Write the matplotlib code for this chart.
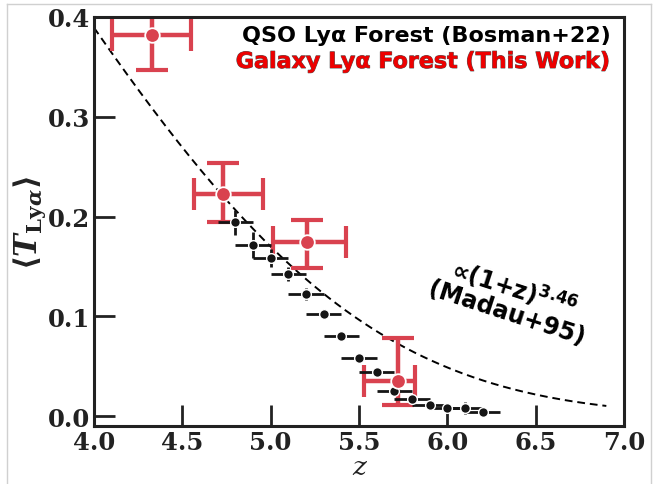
import numpy as np
import matplotlib
matplotlib.use('Agg')
import matplotlib.pyplot as plt
import matplotlib.patheffects as pe
from matplotlib.lines import Line2D

# ---- data ----
qso_z = [4.8, 4.9, 5.0, 5.1, 5.2, 5.3, 5.4, 5.5, 5.6, 5.7, 5.8, 5.9, 6.0, 6.1, 6.2]
qso_T = [0.194, 0.171, 0.158, 0.142, 0.122, 0.102, 0.080, 0.058, 0.044, 0.025,
         0.017, 0.011, 0.008, 0.008, 0.004]
qso_zerr = [0.1] * 15
qso_Terr = [0.013, 0.013, 0.009, 0.007, 0.006, 0.005, 0.004, 0.004, 0.004, 0.004,
            0.003, 0.003, 0.003, 0.006, 0.003]

gal_z = [4.327, 4.732, 5.204, 5.718]
gal_T = [0.382, 0.223, 0.174, 0.035]
gal_zerr_lo = [0.223, 0.164, 0.189, 0.190]
gal_zerr_hi = [0.221, 0.226, 0.222, 0.100]
gal_Terr_lo = [0.035, 0.029, 0.026, 0.024]
gal_Terr_hi = [0.035, 0.031, 0.023, 0.043]

madau_amp = 0.0036
madau_index = 3.46
z_model = np.linspace(4.0, 6.9, 300)
T_model = np.exp(-madau_amp * (1 + z_model) ** madau_index)

# ---- style ----
plt.rcParams['mathtext.fontset'] = 'custom'
plt.rcParams['mathtext.rm'] = 'DejaVu Serif:bold'
plt.rcParams['mathtext.it'] = 'DejaVu Serif:italic:bold'
plt.rcParams['mathtext.bf'] = 'DejaVu Serif:bold'
plt.rcParams['mathtext.sf'] = 'DejaVu Sans:bold'

red = '#d9424f'
dark = '#222222'

fig = plt.figure(figsize=(6.58, 4.85), dpi=100)
ax = fig.add_axes([94 / 658, 58 / 485, 530 / 658, 409 / 485])

# model curve
ax.plot(z_model, T_model, ls=(0, (4, 2.5)), color='black', lw=1.4, zorder=1)

# galaxy error bars (lines only)
ax.errorbar(gal_z, gal_T, xerr=[gal_zerr_lo, gal_zerr_hi], yerr=[gal_Terr_lo, gal_Terr_hi],
            fmt='none', ecolor=red, elinewidth=3.2, capsize=11.5, capthick=3.0, zorder=2)

# QSO points
ax.errorbar(qso_z, qso_T, xerr=qso_zerr, yerr=qso_Terr, fmt='o', color='#151515',
            ms=7, mec='white', mew=1.0, elinewidth=2.0, capsize=0, zorder=3)

# galaxy markers on top
ax.plot(gal_z, gal_T, 'o', color=red, ms=10.5, mec='white', mew=1.3, zorder=4, ls='none')

ax.set_xlim(4.0, 7.0)
ax.set_ylim(-0.01, 0.4)
ax.set_xticks([4.0, 4.5, 5.0, 5.5, 6.0, 6.5, 7.0])
ax.set_yticks([0.0, 0.1, 0.2, 0.3, 0.4])
ax.set_xticklabels(['4.0', '4.5', '5.0', '5.5', '6.0', '6.5', '7.0'])
ax.set_yticklabels(['0.0', '0.1', '0.2', '0.3', '0.4'])

for s in ax.spines.values():
    s.set_linewidth(2.2)
    s.set_color(dark)
ax.tick_params(direction='in', length=15, width=2.0, color=dark, pad=3)
for lab in ax.get_xticklabels() + ax.get_yticklabels():
    lab.set_fontfamily('DejaVu Serif')
    lab.set_fontweight('bold')
    lab.set_fontsize(17.5)
    lab.set_color(dark)

ax.set_xlabel('z', fontsize=19, labelpad=0, color=dark, family='DejaVu Serif',
              fontstyle='italic')
ax.set_ylabel(r'$\langle T_{\mathrm{Ly}\alpha}\rangle$', fontsize=22, labelpad=0, color=dark)

# legend-like texts
ax.text(0.975, 0.955, 'QSO Lyα Forest (Bosman+22)', transform=ax.transAxes, ha='right',
        va='center', fontsize=16, fontweight='bold', color='black', family='DejaVu Sans')
ax.text(0.975, 0.89, 'Galaxy Lyα Forest (This Work)', transform=ax.transAxes, ha='right',
        va='center', fontsize=16, fontweight='bold', color='#ee0000', family='DejaVu Sans',
        path_effects=[pe.withStroke(linewidth=0.7, foreground='#555555')])

ax.text(6.36, 0.118, '∝(1+z)$^{\\mathsf{3.46}}$\n(Madau+95)', rotation=-18,
        rotation_mode='anchor', ha='center', va='center', ma='center', fontsize=17,
        fontweight='bold', family='DejaVu Sans', color='black', linespacing=1.0)

# faint frame around figure
fc = '#d0d0d0'
fig.add_artist(Line2D([6.5 / 658, 6.5 / 658], [0, 1 - 4.5 / 485], transform=fig.transFigure, color=fc, lw=1))
fig.add_artist(Line2D([6.5 / 658, 651 / 658], [1 - 4.5 / 485, 1 - 4.5 / 485], transform=fig.transFigure, color=fc, lw=1))
fig.add_artist(Line2D([651 / 658, 651 / 658], [0, 1 - 4.5 / 485], transform=fig.transFigure, color=fc, lw=1))

fig.savefig('out.png', dpi=100)
